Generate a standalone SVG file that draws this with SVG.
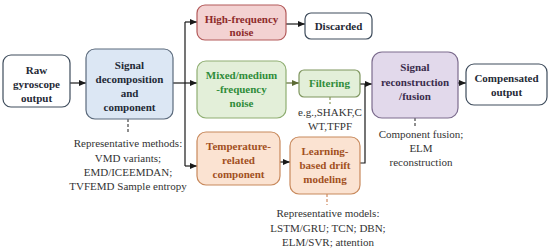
<svg xmlns="http://www.w3.org/2000/svg" width="550" height="249" viewBox="0 0 550 249">
<defs>
<marker id="ah" markerWidth="7" markerHeight="6" refX="7" refY="3" orient="auto" markerUnits="userSpaceOnUse"><path d="M0,0 L7,3 L0,6 Z" fill="#1a1a1a"/></marker>
<marker id="ahg" markerWidth="7" markerHeight="6" refX="7" refY="3" orient="auto" markerUnits="userSpaceOnUse"><path d="M0,0 L7,3 L0,6 Z" fill="#5d6b35"/></marker>
<style>
.t{font-weight:bold;font-size:11px;text-anchor:middle}
.a{font-size:11px;text-anchor:middle;fill:#333}
.c{fill:none;stroke:#1a1a1a;stroke-width:1.2}
.d{fill:none;stroke-width:1.2;stroke-dasharray:3,2}
</style>
</defs>
<rect width="550" height="249" fill="#fff"/>
<g id="connectors">
<path class="c" d="M70,83 H86" marker-end="url(#ah)"/>
<path class="c" d="M173,83 H185"/>
<path class="c" d="M185,22 V166"/>
<path class="c" d="M185,22 H197" marker-end="url(#ah)"/>
<path class="c" d="M185,83 H197" marker-end="url(#ah)"/>
<path class="c" d="M185,166 H197" marker-end="url(#ah)"/>
<path class="c" d="M286,24 H305" marker-end="url(#ah)"/>
<path class="c" d="M286,83 H299" style="stroke:#5d6b35" marker-end="url(#ahg)"/>
<path class="c" d="M280,162 H290" marker-end="url(#ah)"/>
<path class="c" d="M360,84 H372" marker-end="url(#ah)"/>
<path class="c" d="M360,163 H365 V84"/>
<path class="c" d="M458,83 H466" marker-end="url(#ah)"/>
<path class="d" d="M128,119 V134" stroke="#444"/>
<path class="d" d="M330,97 V104" stroke="#8a9a5a"/>
<path class="d" d="M327,194 V205" stroke="#d08a60"/>
<path class="d" d="M415,118 V128" stroke="#444"/>
</g>
<g font-family="Liberation Serif, Times New Roman, serif">
<g id="raw">
<rect x="3" y="55" width="67" height="52" rx="8" fill="#fff" stroke="#3e4c5c" stroke-width="1.2"/>
<text class="t" fill="#1f2a36"><tspan x="36.5" y="74">Raw</tspan><tspan x="36.5" y="88">gyroscope</tspan><tspan x="36.5" y="102">output</tspan></text>
</g>
<g id="decomp">
<rect x="86" y="49" width="87" height="70" rx="9" fill="#dce7f4" stroke="#5b6a7c" stroke-width="1.2"/>
<text class="t" fill="#1f2a36"><tspan x="129.5" y="69">Signal</tspan><tspan x="129.5" y="83">decomposition</tspan><tspan x="129.5" y="97">and</tspan><tspan x="129.5" y="111">component</tspan></text>
<text class="a"><tspan x="128" y="147">Representative methods:</tspan><tspan x="128" y="162">VMD variants;</tspan><tspan x="128" y="176">EMD/ICEEMDAN;</tspan><tspan x="128" y="190">TVFEMD Sample entropy</tspan></text>
</g>
<g id="highfreq">
<rect x="197" y="5" width="89" height="35" rx="8" fill="#f3d2d2" stroke="#b35a5a" stroke-width="1.2"/>
<text class="t" fill="#8e2b2b"><tspan x="241.5" y="23">High-frequency</tspan><tspan x="241.5" y="36">noise</tspan></text>
</g>
<g id="discarded">
<rect x="305" y="13" width="67" height="26" rx="6" fill="#fff" stroke="#3e4c5c" stroke-width="1.2"/>
<text class="t" fill="#1f2a36" x="338.5" y="30">Discarded</text>
</g>
<g id="mixed">
<rect x="197" y="61" width="89" height="57" rx="9" fill="#e3efd9" stroke="#8fae72" stroke-width="1.2"/>
<text class="t" fill="#2f8c3a"><tspan x="241.5" y="79">Mixed/medium</tspan><tspan x="241.5" y="93">-frequency</tspan><tspan x="241.5" y="107">noise</tspan></text>
</g>
<g id="filtering">
<rect x="299" y="70" width="61" height="27" rx="5" fill="#e3efd9" stroke="#7f965f" stroke-width="1.2"/>
<text class="t" fill="#2f8c3a" x="329.5" y="87">Filtering</text>
<text class="a"><tspan x="330" y="116">e.g.,SHAKF,C</tspan><tspan x="330" y="130">WT,TFPF</tspan></text>
</g>
<g id="temperature">
<rect x="197" y="132" width="83" height="53" rx="9" fill="#fbe3d2" stroke="#c8895c" stroke-width="1.2"/>
<text class="t" fill="#a2501e"><tspan x="238.5" y="150">Temperature-</tspan><tspan x="238.5" y="164">related</tspan><tspan x="238.5" y="178">component</tspan></text>
</g>
<g id="learning">
<rect x="290" y="137" width="70" height="57" rx="9" fill="#fbe3d2" stroke="#c8895c" stroke-width="1.2"/>
<text class="t" fill="#a2501e"><tspan x="325" y="155">Learning-</tspan><tspan x="325" y="169">based drift</tspan><tspan x="325" y="183">modeling</tspan></text>
<text class="a"><tspan x="328" y="217">Representative models:</tspan><tspan x="328" y="232">LSTM/GRU; TCN; DBN;</tspan><tspan x="328" y="246">ELM/SVR; attention</tspan></text>
</g>
<g id="recon">
<rect x="372" y="52" width="86" height="66" rx="10" fill="#e2d9eb" stroke="#7c6c8e" stroke-width="1.2"/>
<text class="t" fill="#3a2c4c"><tspan x="415" y="71">Signal</tspan><tspan x="415" y="86">reconstruction</tspan><tspan x="415" y="100">/fusion</tspan></text>
<text class="a"><tspan x="421" y="138">Component fusion;</tspan><tspan x="421" y="152">ELM</tspan><tspan x="421" y="166">reconstruction</tspan></text>
</g>
<g id="compensated">
<rect x="466" y="64" width="81" height="41" rx="8" fill="#fff" stroke="#3e4c5c" stroke-width="1.2"/>
<text class="t" fill="#1f2a36"><tspan x="506.5" y="82">Compensated</tspan><tspan x="506.5" y="96">output</tspan></text>
</g>
</g>
</svg>
